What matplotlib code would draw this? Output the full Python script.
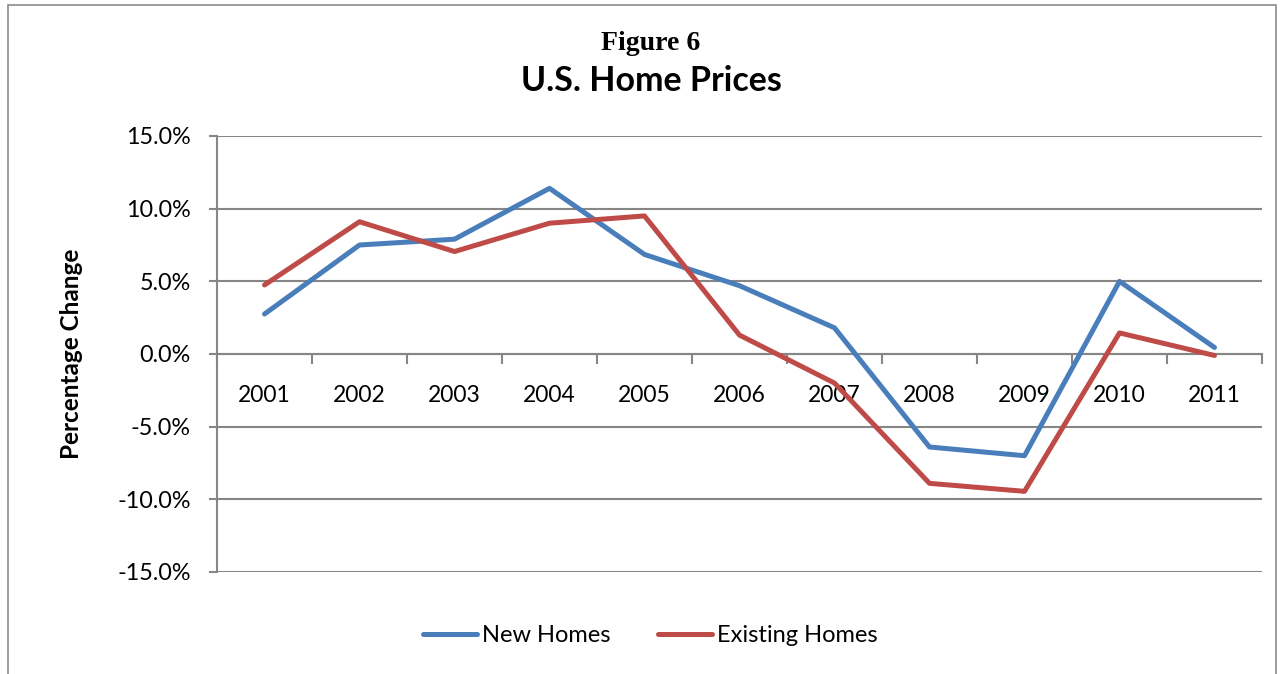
import matplotlib
matplotlib.use("Agg")
from matplotlib import pyplot as plt
from matplotlib.patches import Rectangle
import numpy as np

years = ["2001", "2002", "2003", "2004", "2005", "2006", "2007", "2008", "2009", "2010", "2011"]
new_homes = [2.75, 7.5, 7.9, 11.4, 6.85, 4.7, 1.8, -6.4, -7.0, 5.0, 0.45]
existing_homes = [4.75, 9.1, 7.05, 9.0, 9.5, 1.3, -2.0, -8.9, -9.45, 1.45, -0.1]
yticks = [-15, -10, -5, 0, 5, 10, 15]

grid_col = "#868686"
blue = "#4A7EBB"
red = "#BE4B48"

plt.rcParams['font.family'] = ['Lato', 'DejaVu Sans']

fig = plt.figure(figsize=(12.84, 6.74), dpi=100)
ax = fig.add_axes([217/1284, 102/674, 1045/1284, 436/674])

x = np.arange(len(years))
ax.plot(x, new_homes, color=blue, lw=3.6, label="New Homes", solid_capstyle='round', zorder=3)
ax.plot(x, existing_homes, color=red, lw=3.6, label="Existing Homes", solid_capstyle='round', zorder=3)

ax.set_xlim(-0.5, len(years) - 0.5)
ax.set_ylim(-15, 15)
ax.set_yticks(yticks)
ax.set_yticklabels([f"{v:.1f}%" for v in yticks], fontsize=16.8)
ax.yaxis.grid(True, color=grid_col, lw=1.5)
ax.set_axisbelow(True)

# category axis crosses at zero
ax.spines['bottom'].set_position(('data', 0))
ax.spines['bottom'].set_color(grid_col)
ax.spines['bottom'].set_linewidth(1.5)
ax.spines['left'].set_color(grid_col)
ax.spines['left'].set_linewidth(1.5)
ax.spines['top'].set_visible(False)
ax.spines['right'].set_visible(False)

ax.set_xticks(x)
ax.set_xticklabels(years, fontsize=16.5)
ax.set_xticks(np.arange(-0.5, len(years)), minor=True)
ax.tick_params(axis='x', which='major', length=0, pad=22)
ax.tick_params(axis='x', which='minor', length=7, color=grid_col, width=1.5)
ax.tick_params(axis='y', length=6, color=grid_col, width=1.5, pad=13)

ax.set_ylabel("Percentage Change", fontsize=17.5, fontweight='bold')
ax.yaxis.set_label_coords((83 - 217) / 1045, 0.5)

fig.text(0.507, 0.936, "Figure 6", ha='center', va='center', fontsize=20,
         fontweight='bold', family='Liberation Serif')
fig.text(0.507, 0.880, "U.S. Home Prices", ha='center', va='center', fontsize=24.5,
         fontweight='bold')

ax.legend(loc='center', bbox_to_anchor=(650/1284, 38/674), bbox_transform=fig.transFigure,
          ncol=2, frameon=False, fontsize=17, handlelength=2.3, handletextpad=0.2,
          columnspacing=2.0)

# chart border
fig.patches.append(Rectangle((8/1284, -0.05), 1268/1284, 1.05 - 5/674, transform=fig.transFigure,
                             fill=False, edgecolor="#8c8c8c", lw=1.2))

fig.savefig("out.png", dpi=100)
